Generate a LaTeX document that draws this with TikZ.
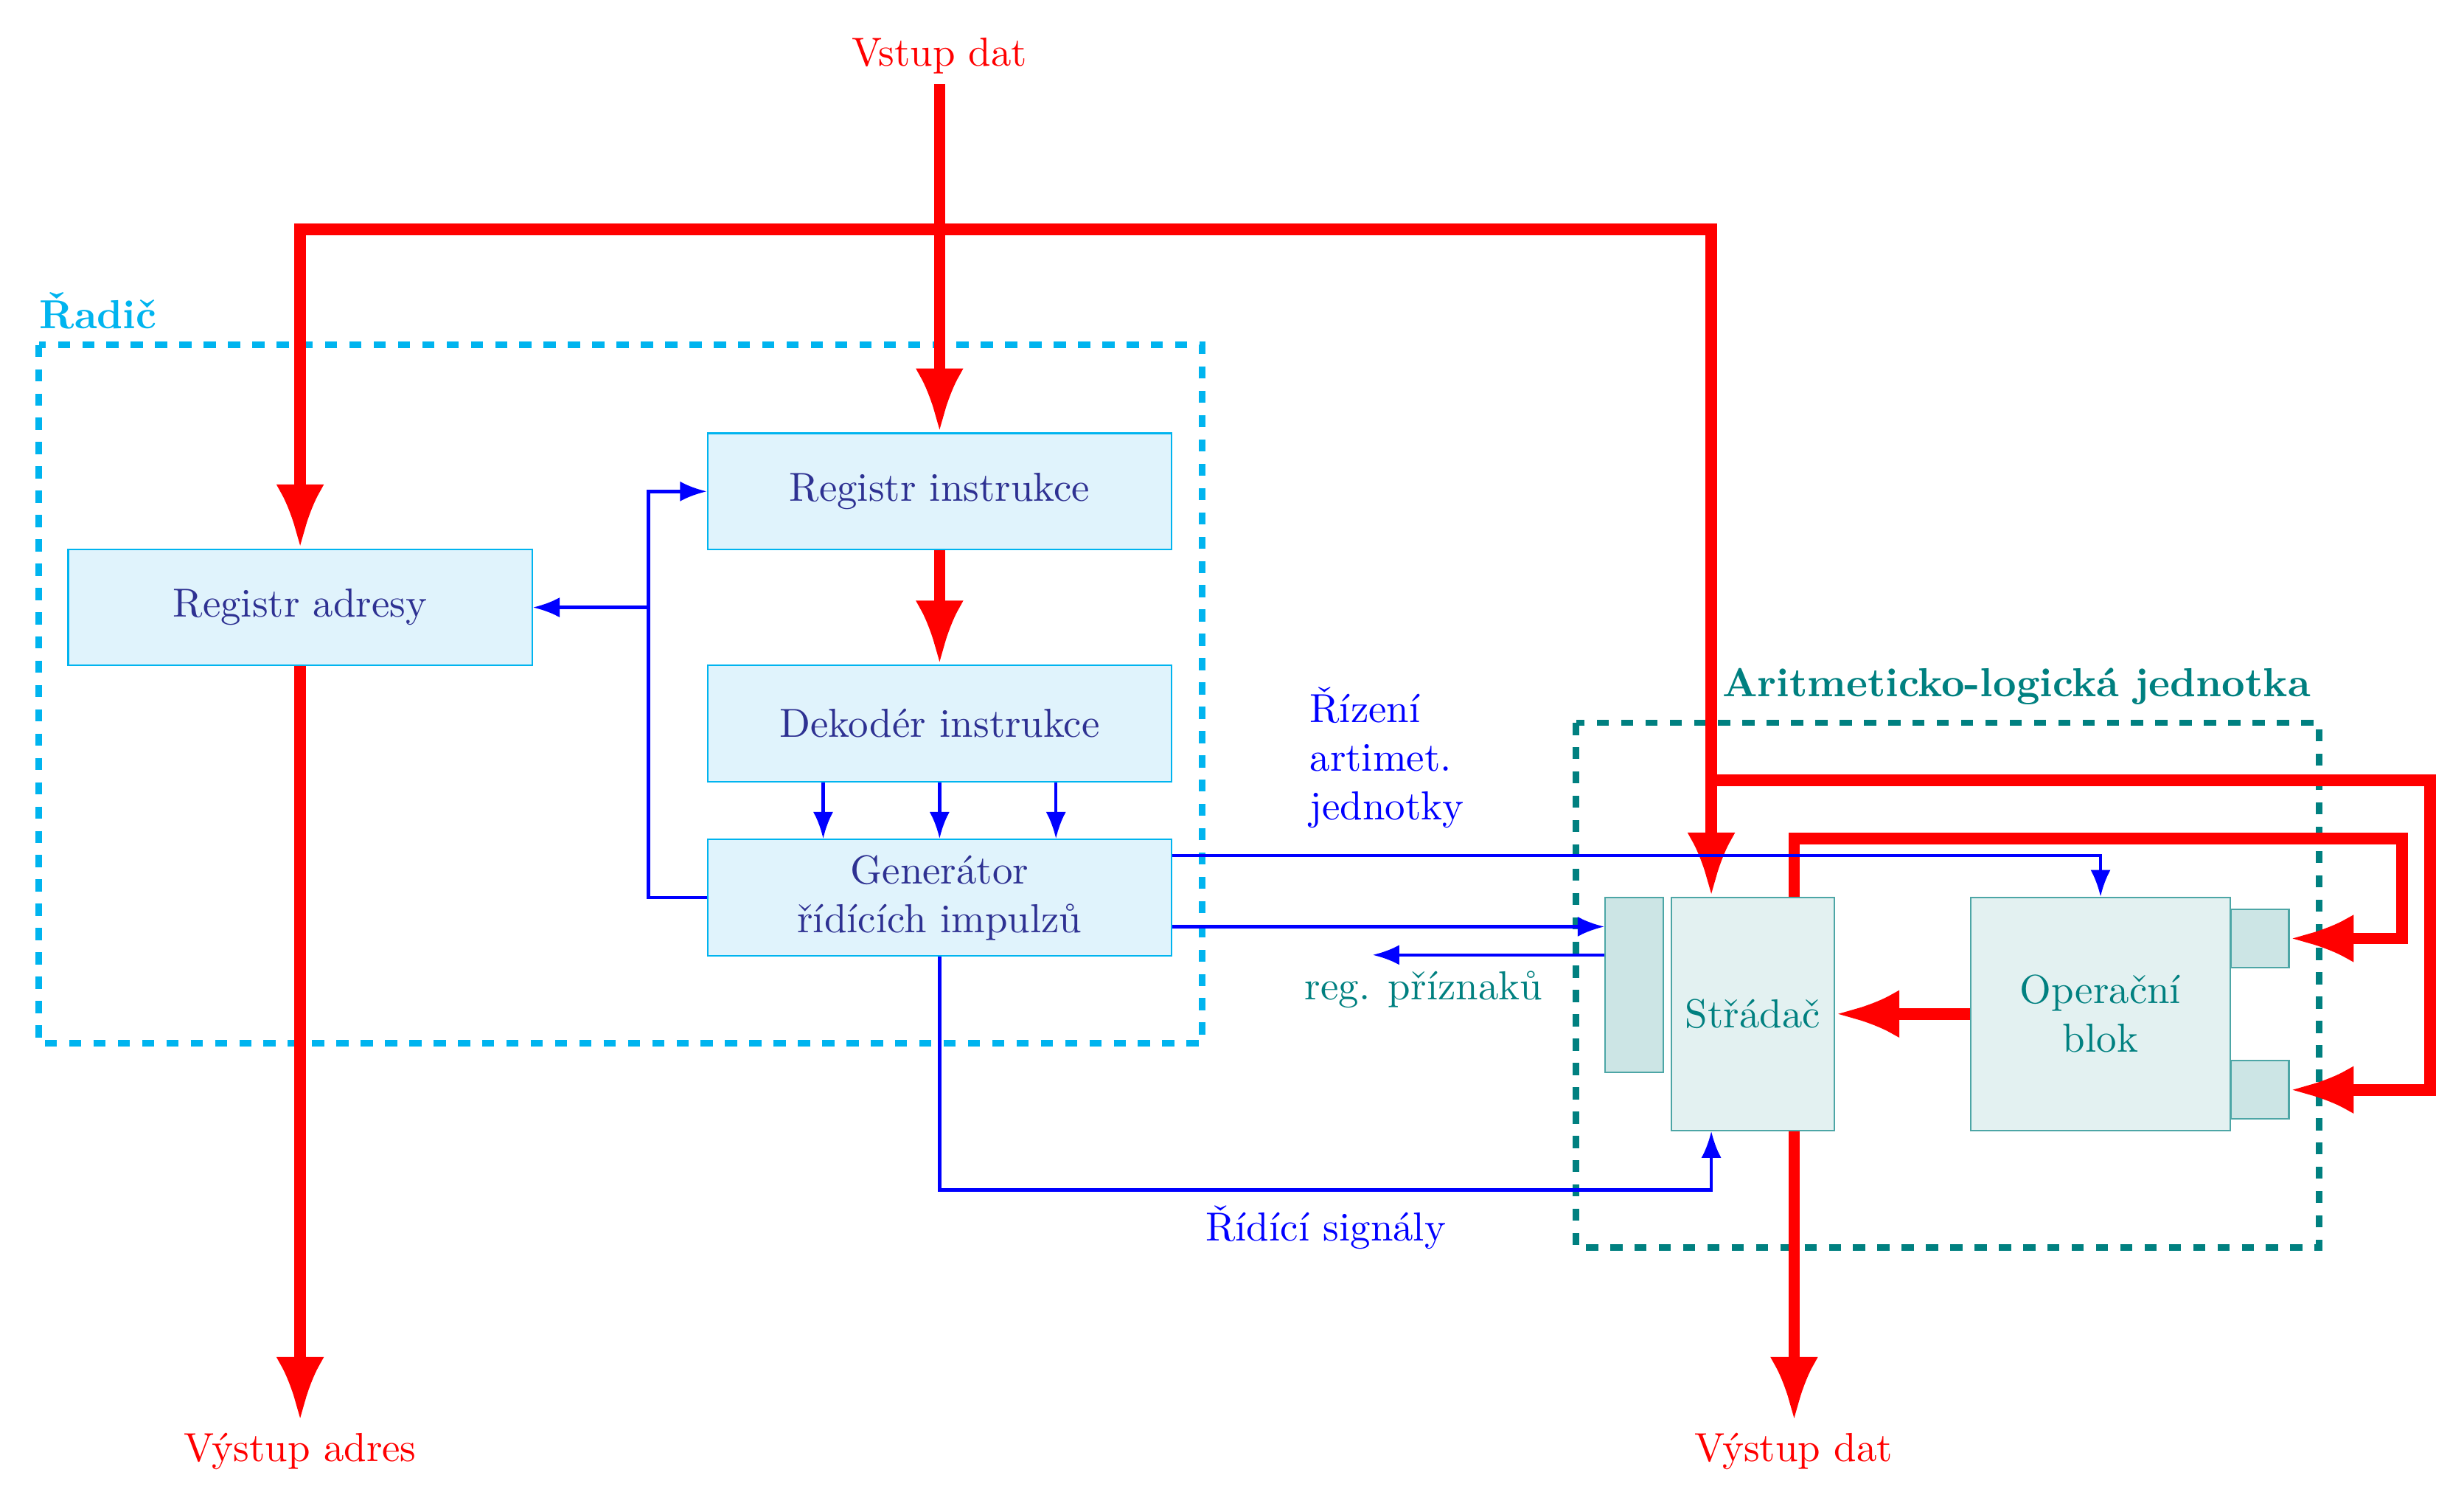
\documentclass[tikz,border=0pt]{standalone}
\usepackage{fontspec}
\usetikzlibrary{arrows.meta,calc}
\definecolor{cyanc}{HTML}{00B4EF}
\definecolor{cyanfill}{HTML}{E0F3FC}
\definecolor{navy}{HTML}{2E3192}
\definecolor{tealc}{HTML}{008080}
\definecolor{tealfill}{HTML}{E3F1F1}
\definecolor{tealdark}{HTML}{CCE5E5}
\definecolor{tealline}{HTML}{4DA6A6}
\tikzset{
  cbox/.style={draw=cyanc, fill=cyanfill, text=navy, minimum width=114.6pt, minimum height=28.7pt, align=center, inner sep=0pt},
  tbox/.style={draw=tealline, fill=tealfill, text=tealc, align=center, inner sep=0pt},
  treg/.style={draw=tealline, fill=tealdark, inner sep=0pt},
  bus/.style={draw=red, line width=2.85pt, -{Latex}},
  ctl/.style={draw=blue, line width=0.8pt, -{Latex}},
  frame/.style={dashed, line width=1.6pt},
}
\begin{document}
\begin{tikzpicture}[x=0.3882pt, y=-0.3882pt]
\useasboundingbox (0,0) rectangle (1568,958);
% frames
\draw[frame, cyanc] (24.7,219.4) rectangle (765,663.7);
\draw[frame, tealc] (1003,459.8) rectangle (1475.6,793.6);
\node[text=cyanc, font=\bfseries, anchor=base west, inner sep=0pt] (lradic) at (24.7,208.8) {Řadič};
\node[text=tealc, font=\bfseries, anchor=base west, inner sep=0pt] (lalu) at (1095.5,443.2) {Aritmeticko-logická jednotka};
% nodes
\node[cbox] (ra) at (191,386.4) {Registr adresy};
\node[cbox] (ri) at (597.9,312.6) {Registr instrukce};
\node[cbox] (dek) at (597.9,460.3) {Dekodér instrukce};
\node[cbox] (gen) at (597.9,571) {Generátor\\řídících impulzů};
\node[tbox, minimum width=40.3pt, minimum height=57.5pt] (st) at (1115.5,645) {Střádač};
\node[tbox, minimum width=64.2pt, minimum height=57.5pt] (op) at (1336.7,645) {Operační\\blok};
\node[treg, minimum width=14.4pt, minimum height=43.1pt] (flag) at (1040,626.5) {};
\node[treg, minimum size=14.4pt] (sr1) at (1438,597) {};
\node[treg, minimum size=14.4pt] (sr2) at (1438,693.3) {};
% labels
\node[text=red, anchor=base] (lvin) at (597.8,41.8) {Vstup dat};
\node[text=red, anchor=base] (lvadr) at (191,929.8) {Výstup adres};
\node[text=red, anchor=base] (lvdat) at (1141.3,929.8) {Výstup dat};
\node[text=blue, anchor=base] (lrs) at (843.7,789.5) {Řídící signály};
\node[text=tealc, anchor=base] (lrp) at (906,635.8) {reg. příznaků};
\node[text=blue, anchor=base west, align=left, inner sep=0pt] (lrz) at (833,521.4) {Řízení\\artimet.\\jednotky};
% coordinates
\coordinate (vin) at (597.9,53.5);
\coordinate (ctop) at (1089,146);
\coordinate (stin) at (st.north -| ctop);
\coordinate (vadr) at (191,904);
\coordinate (stout) at ($(st.north west)!0.75!(st.north east)$);
\coordinate (c2) at (1528.7,533.5);
\coordinate (br) at (1089,496.5);
\coordinate (c3) at (1546.5,496.5);
\coordinate (stbo) at ($(st.south west)!0.75!(st.south east)$);
\coordinate (vdat) at (stbo |- vadr);
% red buses
\draw[bus] (vin) -- (ri.north);
\draw[bus, {Latex}-{Latex}] (ra.north) |- (ctop) -- (stin);
\draw[bus] (ra.south) -- (vadr);
\draw[bus] (ri.south) -- (dek.north);
\draw[bus] (op.west) -- (st.east);
\draw[bus] (stout) |- (c2) |- (sr1.east);
\draw[bus] (br) -- (c3) |- (sr2.east);
\draw[bus] (stbo) -- (vdat);
% blue control
\coordinate (jn) at (412.7,386.4);
\draw[ctl] (gen.west) -| (jn) |- (ri.west);
\draw[ctl] (jn) -- (ra.east);
\foreach \f in {0.25,0.5,0.75}
  \draw[ctl] ($(dek.south west)!\f!(dek.south east)$) -- ($(gen.north west)!\f!(gen.north east)$);
\draw[ctl] ([yshift=-4.15pt]gen.north east) -| (op.north);
\coordinate (fl1) at ($(flag.north west)+(0,19)$);
\draw[ctl] (gen.east |- fl1) -- (fl1);
\coordinate (fl2) at ($(flag.north west)+(0,37)$);
\coordinate (flend) at ($(fl2)+(-147.5,0)$);
\draw[ctl] (fl2) -- (flend);
\coordinate (stbi) at (st.south -| ctop);
\draw[ctl] (gen.south) |- ($(stbi)+(0,37.5)$) -- (stbi);
\end{tikzpicture}
\end{document}
